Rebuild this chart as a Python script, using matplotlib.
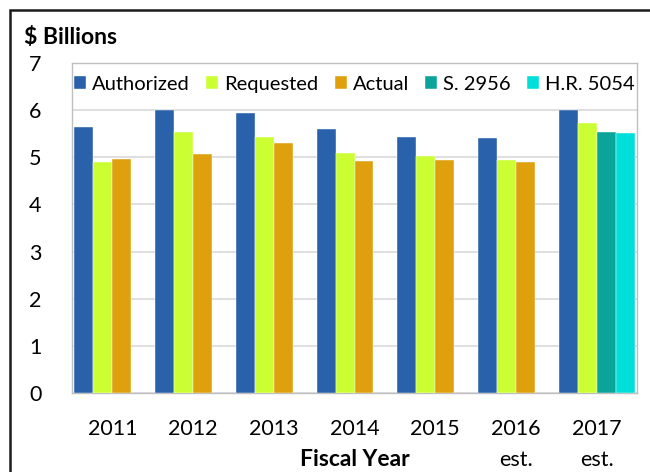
import numpy as np
import matplotlib
matplotlib.use("Agg")
import matplotlib.pyplot as plt
from matplotlib.patches import Rectangle
from matplotlib.transforms import blended_transform_factory

# ------------------------------
# Data ($ billions)
# ------------------------------
years = ["2011", "2012", "2013", "2014", "2015", "2016", "2017"]
est_years = ["2016", "2017"]
authorized = [5.65, 6.00, 5.95, 5.60, 5.43, 5.40, 6.01]
requested = [4.91, 5.53, 5.43, 5.09, 5.03, 4.95, 5.73]
actual = [4.97, 5.07, 5.31, 4.93, 4.95, 4.90, np.nan]
s2956 = [np.nan, np.nan, np.nan, np.nan, np.nan, np.nan, 5.53]
hr5054 = [np.nan, np.nan, np.nan, np.nan, np.nan, np.nan, 5.51]

plt.rcParams["font.family"] = ["Lato", "DejaVu Sans"]

fig = plt.figure(figsize=(6.5, 4.72), dpi=100)
ax = fig.add_axes([72 / 650, 1 - 393 / 472, 565 / 650, 330 / 472])

x = np.arange(len(years))
w = 0.235
# Actual and S. 2956 share the third slot
series = [
    ("Authorized", authorized, "#2961AA", -1.5),
    ("Requested", requested, "#CCFF33", -0.5),
    ("Actual", actual, "#DFA00E", 0.5),
    ("S. 2956", s2956, "#0AA49A", 0.5),
    ("H.R. 5054", hr5054, "#00DFDA", 1.5),
]
for name, vals, color, off in series:
    ax.bar(x + off * w, vals, width=w, color=color, label=name,
           edgecolor="#FFFFFF", linewidth=0.3, zorder=3)

ax.set_xlim(-0.5, len(years) - 0.5)
ax.set_ylim(0, 7)
ax.set_yticks(range(0, 8))
ax.set_xticks(x)
ax.set_xticklabels(years)
ax.tick_params(axis="y", length=0, pad=22, labelsize=15.5)
ax.tick_params(axis="x", length=0, pad=19, labelsize=15.5)
ax.yaxis.grid(True, color="#D9D9D9", linewidth=1.2, zorder=0)
ax.set_axisbelow(True)
for sp in ax.spines.values():
    sp.set_color("#BFBFBF")
    sp.set_linewidth(1)

# "est." under the estimated years
trans = blended_transform_factory(ax.transData, fig.transFigure)
for yr in est_years:
    ax.text(years.index(yr), 1 - 460 / 472, "est.", transform=trans,
            fontsize=15.5, ha="center", va="center")

ax.legend(loc="center", bbox_to_anchor=(0.5, 0.935), ncol=5, frameon=False,
          fontsize=14.5, handlelength=0.6, handleheight=0.6,
          handletextpad=0.3, columnspacing=0.8, borderaxespad=0)

fig.text(24 / 650, 1 - 37 / 472, "$ Billions", fontsize=16.5, fontweight="bold",
         va="center", ha="left")
fig.text(355 / 650, 1 - 460 / 472, "Fiscal Year", fontsize=16.5, fontweight="bold",
         va="center", ha="center")

# outer frame
fig.add_artist(Rectangle((10 / 650, -0.2), 1.2, 1.2 - 10 / 472,
                         transform=fig.transFigure, fill=False,
                         edgecolor="#1A1A1A", linewidth=1.8))

fig.savefig("out.png", dpi=100)
